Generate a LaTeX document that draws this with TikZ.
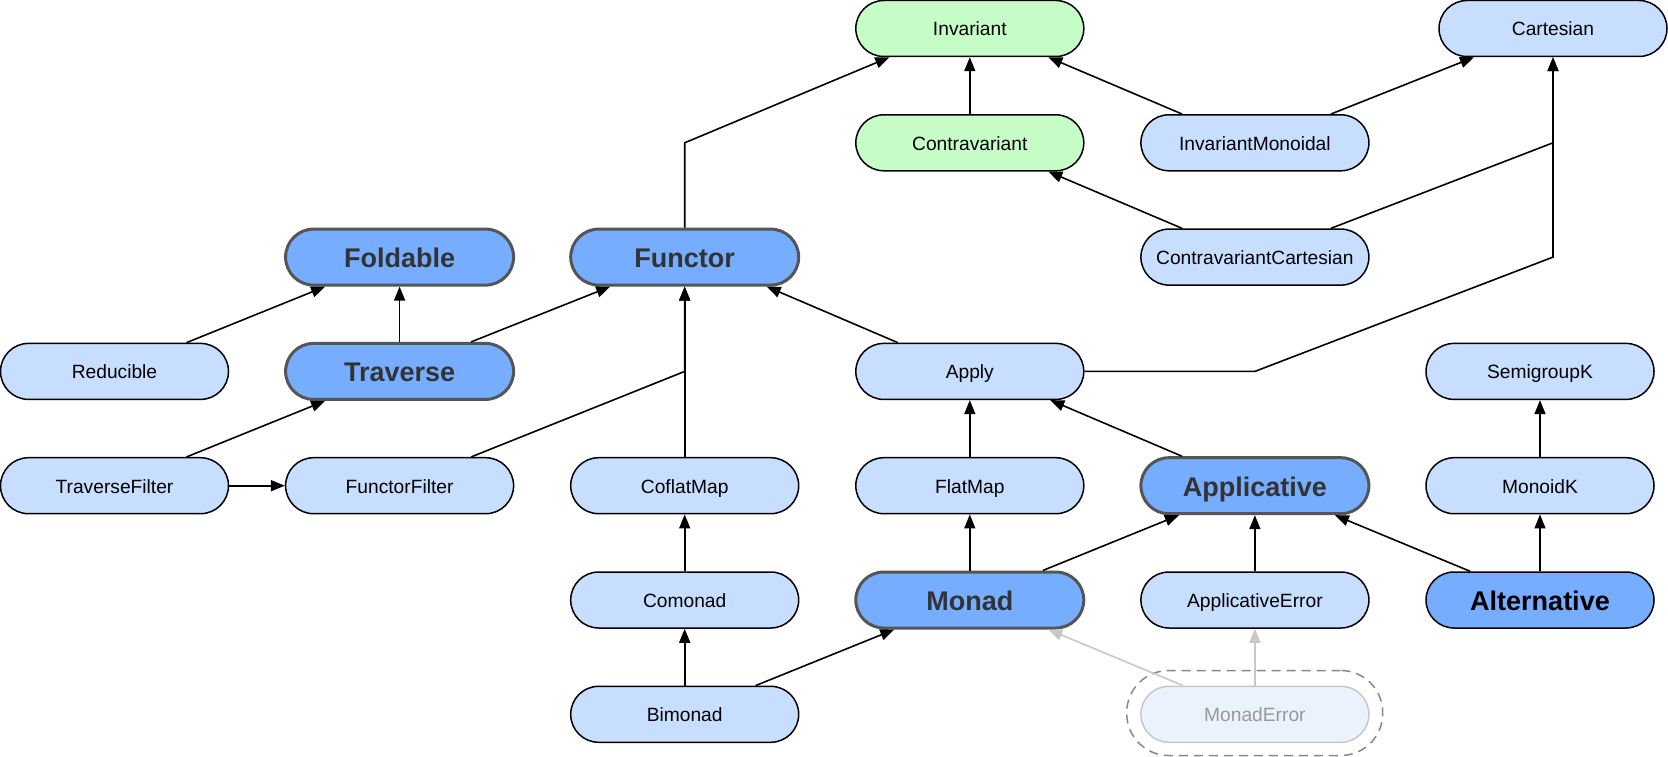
\documentclass[tikz,border=0pt]{standalone}
\usepackage{fontspec}
\setmainfont{Liberation Sans}
\usetikzlibrary{arrows.meta,calc}
\definecolor{lb}{HTML}{C8DEFF}
\definecolor{db}{HTML}{76ADFF}
\definecolor{grn}{HTML}{C6FCC6}
\definecolor{bordgray}{HTML}{555555}
\definecolor{txtgray}{HTML}{333333}
\definecolor{ghfill}{HTML}{EAF2FE}
\definecolor{ghline}{HTML}{C8C8C8}
\definecolor{ghtext}{HTML}{999999}
\definecolor{dashgray}{HTML}{888888}
\tikzset{
  basebox/.style={rectangle, rounded corners=28pt, minimum width=228pt, minimum height=56pt,
    inner sep=0pt, line width=1.5pt, draw=black, text height=19pt, text depth=4pt,
    font=\fontsize{19.2}{23}\selectfont},
  plainbox/.style={basebox, fill=lb},
  greenbox/.style={basebox, fill=grn},
  boldbox/.style={basebox, fill=db, draw=bordgray, line width=3pt, text=txtgray,
    text height=27pt, text depth=6pt, font=\fontsize{27}{31}\bfseries\selectfont},
  altbox/.style={basebox, fill=db, text=black,
    text height=27pt, text depth=6pt, font=\fontsize{27}{31}\bfseries\selectfont},
  ghostbox/.style={basebox, fill=ghfill, draw=ghline, text=ghtext},
  framebox/.style={rectangle, rounded corners=42pt, minimum width=256pt, minimum height=85pt,
    draw=dashgray, line width=1.5pt, dash pattern=on 9pt off 6pt},
  arr/.style={-{Triangle[length=14pt,width=11pt]}, line width=1.6pt, draw=black},
  ghostarr/.style={-{Triangle[length=14pt,width=11pt]}, line width=1.6pt, draw=ghline, color=ghline}
}
\begin{document}
\begin{tikzpicture}[x=1pt,y=-1pt]
\useasboundingbox (0,0) rectangle (1668,757);
% row 0
\node[greenbox] (inv) at (969.8,28.5) {Invariant};
\node[plainbox] (cart) at (1553,28.5) {Cartesian};
% row 1
\node[greenbox] (contra) at (969.8,142.8) {Contravariant};
\node[plainbox] (invmon) at (1254.9,142.8) {InvariantMonoidal};
% row 2
\node[boldbox] (fold) at (399.6,257.1) {Foldable};
\node[boldbox] (func) at (684.7,257.1) {Functor};
\node[plainbox] (cc) at (1254.9,257.1) {ContravariantCartesian};
% row 3
\node[plainbox] (red) at (114.5,371.4) {Reducible};
\node[boldbox] (trav) at (399.6,371.4) {Traverse};
\node[plainbox] (apply) at (969.8,371.4) {Apply};
\node[plainbox] (semk) at (1540,371.4) {SemigroupK};
% row 4
\node[plainbox] (tf) at (114.5,485.7) {TraverseFilter};
\node[plainbox] (ff) at (399.6,485.7) {FunctorFilter};
\node[plainbox] (cof) at (684.7,485.7) {CoflatMap};
\node[plainbox] (flat) at (969.8,485.7) {FlatMap};
\node[boldbox] (appl) at (1254.9,485.7) {Applicative};
\node[plainbox] (monk) at (1540,485.7) {MonoidK};
% row 5
\node[plainbox] (comonad) at (684.7,600) {Comonad};
\node[boldbox] (monad) at (969.8,600) {Monad};
\node[plainbox] (apperr) at (1254.9,600) {ApplicativeError};
\node[altbox] (alt) at (1540,600) {Alternative};
% row 6
\node[plainbox] (bimonad) at (684.7,714.3) {Bimonad};
\node[framebox] (meframe) at (1254.7,713) {};
\node[ghostbox] (me) at (1254.9,714.3) {MonadError};
% edges
\draw[arr] ([xshift=72pt]red.north) -- ([xshift=-74.5pt]fold.south);
\draw[arr] (trav.north) -- (fold.south);
\draw[arr] ([xshift=71.5pt]trav.north) -- ([xshift=-74.5pt]func.south);
\draw[arr] ([xshift=72pt]tf.north) -- ([xshift=-74.5pt]trav.south);
\draw[arr] (tf.east) -- (ff.west);
\draw[arr] ([xshift=71.5pt]ff.north) -- (func.center |- apply.center) -- (func.south);
\draw[arr] (cof.north) -- (func.south);
\draw[arr] ([xshift=-72pt]apply.north) -- ([xshift=82pt]func.south);
\draw[arr] (func.north) -- (func.center |- contra.center) -- ([xshift=-80.5pt]inv.south);
\draw[arr] (contra.north) -- (inv.south);
\draw[arr] ([xshift=-72.8pt]invmon.north) -- ([xshift=78.5pt]inv.south);
\draw[arr] ([xshift=76pt]invmon.north) -- ([xshift=-79pt]cart.south);
\draw[arr] ([xshift=-72.8pt]cc.north) -- ([xshift=78.5pt]contra.south);
\draw[arr] ([xshift=76pt]cc.north) -- (cart.center |- invmon.center) -- (cart.south);
\draw[arr] (apply.east) -- (appl.center |- apply.center) -- (cart.center |- cc.center) -- (cart.south);
\draw[arr] (flat.north) -- (apply.south);
\draw[arr] ([xshift=-73pt]appl.north) -- ([xshift=80.5pt]apply.south);
\draw[arr] (monad.north) -- (flat.south);
\draw[arr] ([xshift=73pt]monad.north) -- ([xshift=-76pt]appl.south);
\draw[arr] (apperr.north) -- (appl.south);
\draw[arr] ([xshift=-70pt]alt.north) -- ([xshift=80pt]appl.south);
\draw[arr] (monk.north) -- (semk.south);
\draw[arr] (alt.north) -- (monk.south);
\draw[arr] (comonad.north) -- (cof.south);
\draw[arr] (bimonad.north) -- (comonad.south);
\draw[arr] ([xshift=71pt]bimonad.north) -- ([xshift=-75.5pt]monad.south);
\draw[ghostarr] ([xshift=-72pt]me.north) -- ([xshift=78.5pt]monad.south);
\draw[ghostarr] (me.north) -- (apperr.south);
\end{tikzpicture}
\end{document}
